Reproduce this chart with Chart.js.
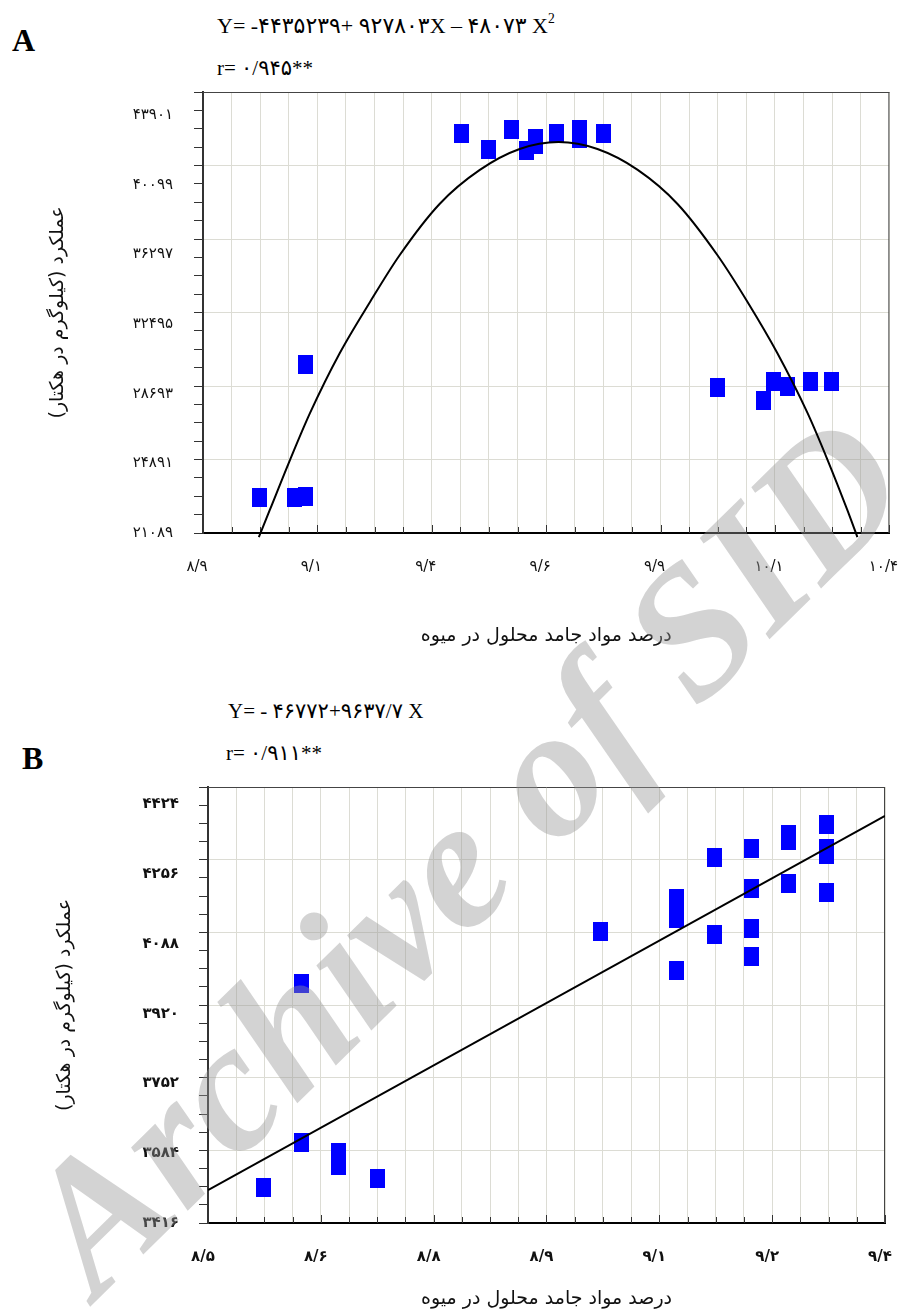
<!DOCTYPE html>
<html lang="fa" dir="ltr">
<head>
<meta charset="UTF-8">
<title>عملکرد و مواد جامد محلول در میوه</title>
<script src="https://cdn.jsdelivr.net/npm/chart.js"></script>
<style>
  body { margin: 0; background: #fff; }
  #page { position: relative; width: 904px; height: 1314px; overflow: hidden;
          font-family: 'Liberation Serif', 'DejaVu Sans', serif; color: #000; }
  .box { position: absolute; left: 0; width: 904px; }
  .txt { position: absolute; white-space: nowrap; line-height: 1; }
  .letter { font-weight: bold; font-size: 32px; }
  .eq { font-size: 21px; }
  .eqA { font-size: 22px; }
  .eq sup, .eqA sup { font-size: 0.62em; vertical-align: 0.75em; line-height: 0; }
  #gap { position: absolute; left: 0; top: 0; pointer-events: none; }
</style>
</head>
<body>
<div id="page">
  <div class="txt letter" style="left:12px; top:24px;">A</div>
  <div class="txt eqA" style="left:217px; top:15px;">Y= -۴۴۳۵۲۳۹+ ۹۲۷۸۰۳X – ۴۸۰۷۳ X<sup>2</sup></div>
  <div class="txt eq" style="left:217px; top:58px;">r= ۰/۹۴۵**</div>
  <div class="box" style="top:80px; height:580px;"><canvas id="chartA"></canvas></div>

  <div class="txt letter" style="left:22px; top:742px;">B</div>
  <div class="txt eq" style="left:228px; top:701px;">Y= - ۴۶۷۷۲+۹۶۳۷/۷ X</div>
  <div class="txt eq" style="left:226px; top:743px;">r= ۰/۹۱۱**</div>
  <div class="box" style="top:770px; height:544px;"><canvas id="chartB"></canvas></div>

  <canvas id="gap" width="904" height="1314"></canvas>
</div>
<script>
// ---- chart A (quadratic fit) ----
const xTicksA = [8.9, 9.15, 9.4, 9.65, 9.9, 10.15, 10.4];
const xTickLabelsA = ['۸/۹', '۹/۱', '۹/۴', '۹/۶', '۹/۹', '۱۰/۱', '۱۰/۴'];
const yTicksA = [21089, 24891, 28693, 32495, 36297, 40099, 43901];
const yTickLabelsA = ['۲۱۰۸۹', '۲۴۸۹۱', '۲۸۶۹۳', '۳۲۴۹۵', '۳۶۲۹۷', '۴۰۰۹۹', '۴۳۹۰۱'];
const solidsA = [9.024, 9.101, 9.123, 9.123, 9.466, 9.524, 9.575, 9.607, 9.627, 9.627,
                 9.673, 9.723, 9.723, 9.776, 10.024, 10.125, 10.147, 10.177, 10.228, 10.273];
const yieldA  = [22950, 22950, 23000, 29830, 41730, 40950, 41940, 40900, 41520, 41160,
                 41780, 41940, 41520, 41730, 28590, 27920, 28950, 28690, 28950, 28950];
const fitXA = [9.022, 9.046, 9.090, 9.134, 9.199, 9.265, 9.330, 9.417, 9.505, 9.592, 9.677,
               9.762, 9.850, 9.937, 10.024, 10.090, 10.155, 10.221, 10.265, 10.308, 10.330];
const fitYA = [20880, 22280, 24860, 27300, 30400, 33040, 35470, 38110, 39870, 40950, 41310,
               40950, 39870, 38110, 35470, 33040, 30400, 27300, 24860, 22280, 20880];

// ---- chart B (linear fit) ----
const xTicksB = [8.5, 8.65, 8.8, 8.95, 9.1, 9.25, 9.4];
const xTickLabelsB = ['۸/۵', '۸/۶', '۸/۸', '۸/۹', '۹/۱', '۹/۲', '۹/۴'];
const yTicksB = [3416, 3584, 3752, 3920, 4088, 4256, 4424];
const yTickLabelsB = ['۳۴۱۶', '۳۵۸۴', '۳۷۵۲', '۳۹۲۰', '۴۰۸۸', '۴۲۵۶', '۴۴۲۴'];
const solidsB = [8.574, 8.624, 8.624, 8.673, 8.673, 8.725, 9.022, 9.123, 9.123, 9.123, 9.123,
                 9.173, 9.173, 9.223, 9.223, 9.223, 9.223, 9.272, 9.272, 9.272,
                 9.322, 9.322, 9.322, 9.322];
const yieldB  = [3499, 3601, 3969, 3578, 3550, 3520, 4089, 4167, 4144, 4121, 3999,
                 4260, 4082, 4281, 4190, 4098, 4031, 4315, 4301, 4202,
                 4338, 4281, 4269, 4181];
const fitXB = [8.5, 9.4];
const fitYB = [3492, 4357];

const xTitle = 'درصد مواد جامد محلول در میوه';
const yTitle = 'عملکرد (کیلوگرم در هکتار)\u200F';

const GRID = '#dcdcd4';
const FONT = "'DejaVu Sans', 'Liberation Serif', sans-serif";
const NONE = 'rgba(0,0,0,0)';

// blue rectangle marker used by both plots
const block = document.createElement('canvas');
block.width = 15; block.height = 19;
const bctx = block.getContext('2d');
bctx.fillStyle = '#0000ff';
bctx.fillRect(0, 0, 15, 19);

function withMinor(majors, parts) {
  const out = [];
  for (let i = 0; i < majors.length - 1; i++) {
    const step = (majors[i + 1] - majors[i]) / parts;
    for (let j = 0; j < parts; j++) out.push(majors[i] + j * step);
  }
  out.push(majors[majors.length - 1]);
  return out;
}

const pts = (xs, ys) => xs.map((x, i) => ({ x: x, y: ys[i] }));

// faint diagonal archive stamp, in page coordinates
function drawStamp(ctx, pageTop) {
  const text = 'Archive of SID';
  ctx.save();
  ctx.font = "italic bold 100px 'Liberation Serif'";
  const size = 100 * 1150 / ctx.measureText(text).width;
  ctx.font = 'italic bold ' + size + "px 'Liberation Serif'";
  ctx.fillStyle = 'rgba(150,150,150,0.42)';
  ctx.translate(97, 1300 - pageTop);
  ctx.rotate(-44.5 * Math.PI / 180);
  ctx.fillText(text, 0, 0);
  ctx.restore();
}

// frame on top/right, short inward ticks on x, stamp between markers and fit line
const framePlugin = {
  id: 'frame',
  beforeDatasetsDraw(chart) {
    const { ctx, chartArea: a, scales } = chart;
    ctx.save();
    ctx.strokeStyle = '#444';
    ctx.lineWidth = 1;
    ctx.beginPath();
    ctx.moveTo(a.left, a.top + 0.5); ctx.lineTo(a.right, a.top + 0.5);
    ctx.moveTo(a.right - 0.5, a.top); ctx.lineTo(a.right - 0.5, a.bottom);
    ctx.stroke();
    ctx.strokeStyle = '#333';
    ctx.beginPath();
    scales.x.ticks.forEach((t, i) => {
      const px = Math.round(scales.x.getPixelForValue(t.value)) + 0.5;
      ctx.moveTo(px, a.bottom);
      ctx.lineTo(px, a.bottom - (i % 4 === 0 ? 8 : 6));
    });
    ctx.stroke();
    ctx.restore();
  },
  afterDatasetDraw(chart, args, opts) {
    if (args.index === 1) drawStamp(chart.ctx, opts.pageTop);
  }
};

function makeChart(id, o) {
  const tickFont = { family: FONT, size: 15, weight: o.bold ? 'bold' : 'normal' };
  const titleFont = { family: FONT, size: 19 };
  return new Chart(document.getElementById(id), {
    type: 'scatter',
    data: {
      datasets: [{
        data: pts(o.fitX, o.fitY),
        showLine: true,
        borderColor: '#000',
        borderWidth: 2,
        cubicInterpolationMode: 'monotone',
        pointRadius: 0,
        clip: { left: 0, top: 0, right: 0, bottom: 5 }
      }, {
        data: pts(o.xs, o.ys),
        pointStyle: block,
        pointRadius: 8,
        backgroundColor: '#0000ff',
        borderWidth: 0
      }]
    },
    options: {
      responsive: true,
      maintainAspectRatio: false,
      animation: false,
      events: [],
      layout: { padding: o.padding },
      plugins: {
        legend: { display: false },
        tooltip: { enabled: false },
        frame: { pageTop: o.pageTop }
      },
      scales: {
        x: {
          type: 'linear',
          min: o.xTicks[0], max: o.xTicks[o.xTicks.length - 1],
          afterBuildTicks: s => { s.ticks = withMinor(o.xTicks, 4).map(v => ({ value: v })); },
          ticks: {
            autoSkip: false, maxRotation: 0, minRotation: 0,
            padding: 0, labelOffset: o.xShift, color: '#111', font: tickFont,
            callback: (v, i) => (i % 4 === 0 ? o.xLabels[i / 4] : '')
          },
          grid: { color: GRID, lineWidth: 1, drawTicks: true, tickLength: o.xGap, tickColor: NONE },
          border: { color: '#000', width: 2 },
          title: { display: true, text: xTitle, color: '#111', font: titleFont, padding: { top: 0, bottom: o.xTitlePad } },
          afterFit: s => { s.height = o.xHeight; }
        },
        y: {
          type: 'linear', position: 'left', weight: 0,
          min: o.yTicks[0], max: o.yTicks[o.yTicks.length - 1],
          afterBuildTicks: s => { s.ticks = withMinor(o.yTicks, 4).map(v => ({ value: v })); },
          ticks: { display: false },
          grid: {
            color: c => (c.index % 4 === 0 ? GRID : NONE),
            tickColor: '#333', tickLength: 9, lineWidth: 1
          },
          border: { color: '#333', width: 2 },
          afterFit: s => { s.width = 9; }
        },
        yl: {
          type: 'linear', position: 'left', weight: 1,
          min: 0, max: o.labelSpan,
          afterBuildTicks: s => { s.ticks = o.yLabels.map((_, k) => ({ value: k })); },
          ticks: {
            autoSkip: false, padding: 0, color: '#111', font: tickFont,
            callback: (v, i) => o.yLabels[i]
          },
          grid: { color: NONE, drawOnChartArea: false, drawTicks: true, tickLength: o.yGap, tickColor: NONE },
          border: { display: false },
          title: { display: true, text: yTitle, color: '#111', font: titleFont, padding: { top: o.yTitlePad, bottom: 0 } },
          afterFit: s => { s.width = o.ylWidth; }
        }
      }
    },
    plugins: [framePlugin]
  });
}

makeChart('chartA', {
  xs: solidsA, ys: yieldA, fitX: fitXA, fitY: fitYA,
  xTicks: xTicksA, xLabels: xTickLabelsA, yTicks: yTicksA, yLabels: yTickLabelsA,
  labelSpan: 6.33, bold: false, pageTop: 80,
  padding: { top: 12, right: 14, left: 0, bottom: 0 },
  xHeight: 127, xGap: 25, xShift: -6, xTitlePad: 13,
  ylWidth: 194, yGap: 21, yTitlePad: 47
});

makeChart('chartB', {
  xs: solidsB, ys: yieldB, fitX: fitXB, fitY: fitYB,
  xTicks: xTicksB, xLabels: xTickLabelsB, yTicks: yTicksB, yLabels: yTickLabelsB,
  labelSpan: 6.25, bold: true, pageTop: 770,
  padding: { top: 17, right: 19, left: 0, bottom: 0 },
  xHeight: 91, xGap: 25, xShift: -5, xTitlePad: 4,
  ylWidth: 199, yGap: 20, yTitlePad: 54
});

// the stamp also crosses the white strip between the two plots
(function () {
  const c = document.getElementById('gap').getContext('2d');
  c.save();
  c.beginPath();
  c.rect(0, 660, 904, 110);
  c.clip();
  drawStamp(c, 0);
  c.restore();
})();
</script>
</body>
</html>
